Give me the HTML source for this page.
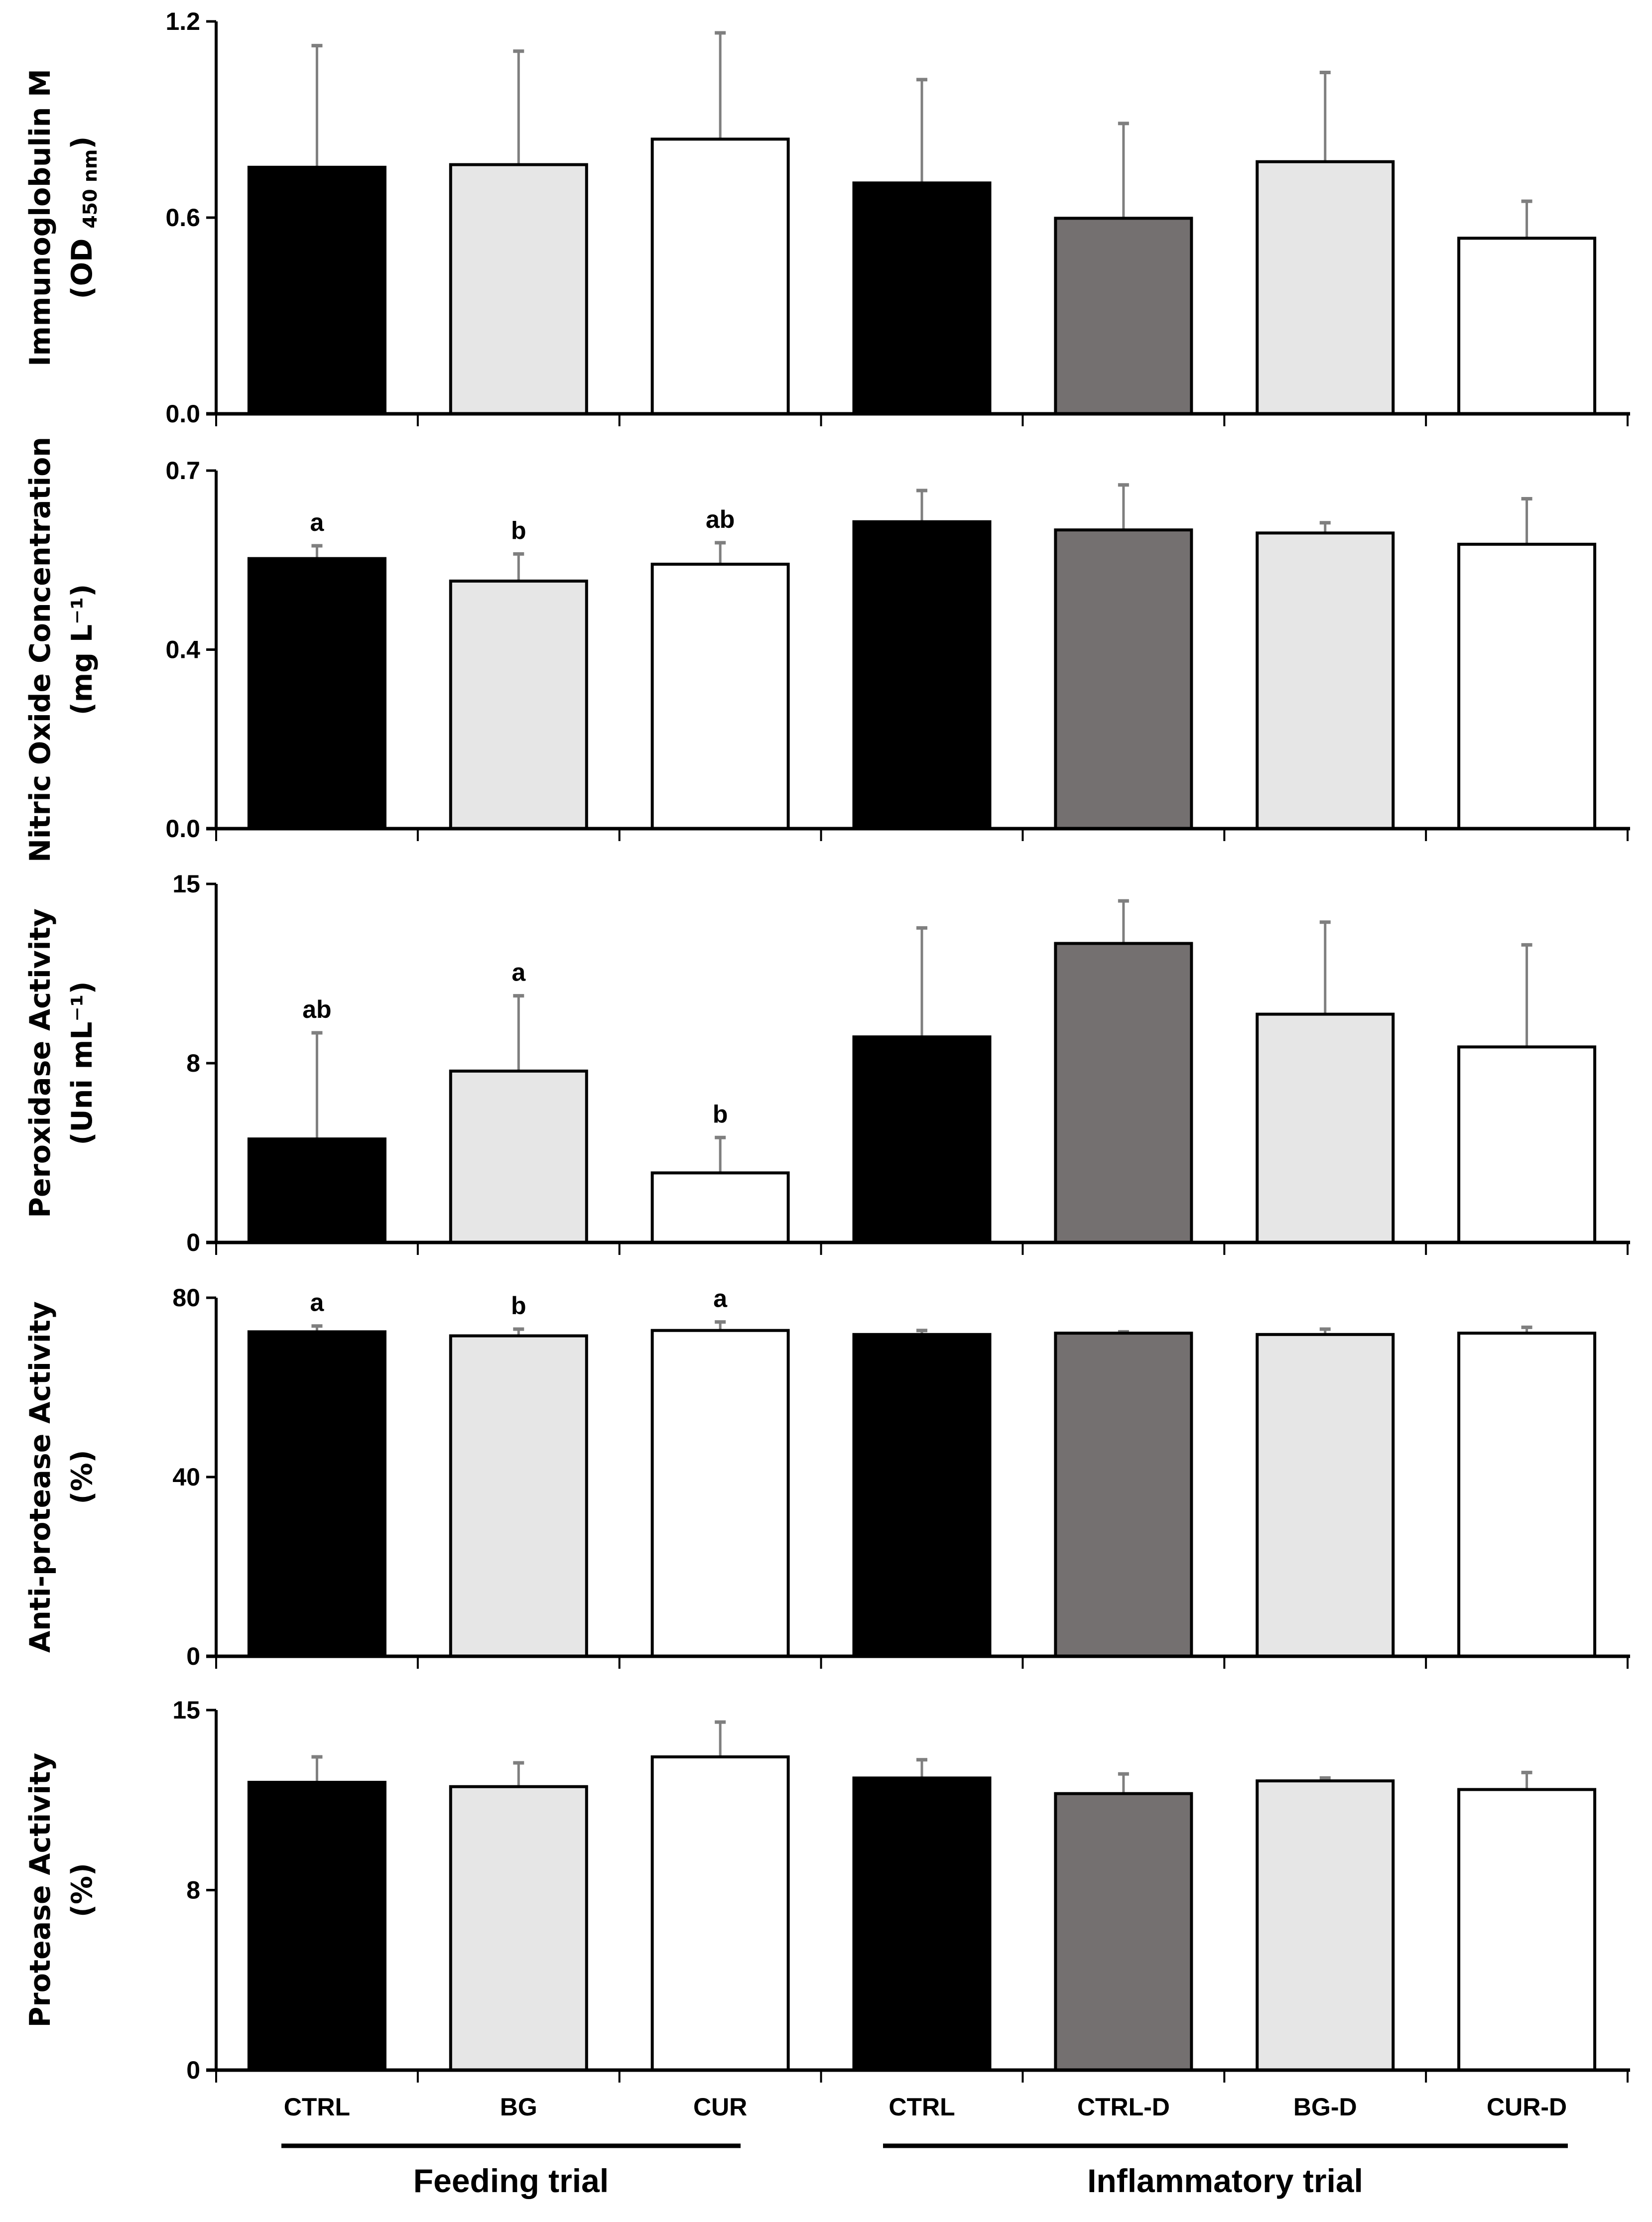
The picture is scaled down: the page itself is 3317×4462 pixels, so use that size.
<!DOCTYPE html>
<html><head><meta charset="utf-8"><style>
html,body{margin:0;padding:0;background:#fff;}
svg{display:block;}
.tick{font-family:"Liberation Sans Narrow","Liberation Sans",sans-serif;font-weight:bold;font-size:50px;}
.ttl{font-family:"DejaVu Sans","Liberation Sans",sans-serif;font-weight:bold;font-size:57px;}
.grp{font-family:"Liberation Sans",sans-serif;font-weight:bold;font-size:66px;}
</style></head><body>
<svg id="chart" width="3317" height="4462" viewBox="0 0 3317 4462" xmlns="http://www.w3.org/2000/svg"></svg>
<script>
const categories = ['CTRL','BG','CUR','CTRL','CTRL-D','BG-D','CUR-D'];
const igmValues = [0.754,0.762,0.840,0.706,0.598,0.771,0.537];
const igmErrTop = [1.126,1.109,1.165,1.022,0.888,1.044,0.650];
const noValues = [0.528,0.484,0.517,0.600,0.584,0.578,0.556];
const noErrTop = [0.553,0.537,0.559,0.661,0.672,0.598,0.645];
const noLetters = ['a','b','ab','','','',''];
const perValues = [4.33,7.17,2.91,8.60,12.51,9.55,8.18];
const perErrTop = [8.77,10.32,4.39,13.16,14.29,13.4,12.45];
const perLetters = ['ab','a','b','','','',''];
const antiValues = [72.4,71.5,72.7,71.8,72.1,71.8,72.1];
const antiErrTop = [73.7,73.0,74.6,72.7,72.4,73.0,73.4];
const antiLetters = ['a','b','a','','','',''];
const protValues = [11.99,11.81,13.05,12.17,11.52,12.05,11.69];
const protErrTop = [13.05,12.8,14.5,12.93,12.34,12.17,12.4];
const igmTicks = [0,0.6,1.2];
const igmTickLabels = ['0.0','0.6','1.2'];
const noTicks = [0,0.35,0.7];
const noTickLabels = ['0.0','0.4','0.7'];
const perTicks = [0,7.5,15];
const perTickLabels = ['0','8','15'];
const antiTicks = [0,40,80];
const antiTickLabels = ['0','40','80'];
const protTicks = [0,7.5,15];
const protTickLabels = ['0','8','15'];

const fills = ['#000','#e6e6e6','#fff','#000','#747070','#e6e6e6','#fff'];
const NS='http://www.w3.org/2000/svg';
const svg=document.getElementById('chart');
function mk(tag,attrs,parent,text){const e=document.createElementNS(NS,tag);for(const k in attrs)e.setAttribute(k,attrs[k]);if(text!==undefined)e.textContent=text;(parent||svg).appendChild(e);return e;}

const X0=434, X1=3268, step=(X1-X0)/categories.length, barW=273;
function xCenter(i){return X0+step*(i+0.5);}

const panels=[
 {name:'igm',top:43,base:831,max:1.2,vals:igmValues,err:igmErrTop,letters:null,ticks:igmTicks,labels:igmTickLabels,t1:'Immunoglobulin  M',t2:''},
 {name:'nitric-oxide',top:945,base:1664,max:0.7,vals:noValues,err:noErrTop,letters:noLetters,ticks:noTicks,labels:noTickLabels,t1:'Nitric Oxide Concentration',t2:'(mg L⁻¹)'},
 {name:'peroxidase',top:1775,base:2495,max:15,vals:perValues,err:perErrTop,letters:perLetters,ticks:perTicks,labels:perTickLabels,t1:'Peroxidase Activity',t2:'(Uni mL⁻¹)'},
 {name:'anti-protease',top:2606,base:3326,max:80,vals:antiValues,err:antiErrTop,letters:antiLetters,ticks:antiTicks,labels:antiTickLabels,t1:'Anti-protease Activity',t2:'(%)'},
 {name:'protease',top:3434,base:4157,max:15,vals:protValues,err:protErrTop,letters:null,ticks:protTicks,labels:protTickLabels,t1:'Protease Activity',t2:'(%)'}
];

panels.forEach(p=>{
  const g=mk('g',{});
  
  
  const y=v=>p.base-(v/p.max)*(p.base-p.top);
  p.vals.forEach((v,i)=>{
    const cx=xCenter(i);
    const et=mk('line',{x1:cx,x2:cx,y1:y(v),y2:y(p.err[i]),stroke:'#7f7f7f','stroke-width':5},g);
    
    
    mk('line',{x1:cx-11,x2:cx+11,y1:y(p.err[i]),y2:y(p.err[i]),stroke:'#7f7f7f','stroke-width':7},g);
    const r=mk('rect',{x:cx-barW/2,y:y(v),width:barW,height:p.base-y(v),fill:fills[i],stroke:'#000','stroke-width':6},g);
    
    
    if(p.letters&&p.letters[i]){
      const t=mk('text',{x:cx,y:y(p.err[i])-30,'text-anchor':'middle',class:'tick'},g,p.letters[i]);
      
      
    }
  });
  const ya=mk('line',{x1:X0,x2:X0,y1:p.top,y2:p.base+3,stroke:'#000','stroke-width':6},g);
  
  
  const xa=mk('line',{x1:X0-20,x2:X1+5,y1:p.base,y2:p.base,stroke:'#000','stroke-width':7},g);
  
  
  for(let i=0;i<=categories.length;i++){
    const x=X0+step*i;
    mk('line',{x1:x,x2:x,y1:p.base,y2:p.base+25,stroke:'#000','stroke-width':4},g);
  }
  p.ticks.forEach((tv,k)=>{
    mk('line',{x1:X0-20,x2:X0,y1:y(tv),y2:y(tv),stroke:'#000','stroke-width':5},g);
    const t=mk('text',{x:X0-32,y:y(tv)+17,'text-anchor':'end',class:'tick'},g,p.labels[k]);
    
    
  });
  const cy=(p.top+p.base)/2;
  const tt=mk('text',{transform:`translate(100,${cy}) rotate(-90)`,'text-anchor':'middle',class:'ttl'},g);
  
  
  mk('tspan',{x:0,y:0},tt,p.t1);
  if(p.name==='igm'){
    mk('tspan',{x:0,y:84},tt,'(OD ');
    mk('tspan',{style:'font-size:38px',dy:10},tt,'450 nm');
    mk('tspan',{dy:-10},tt,')');
  } else {
    mk('tspan',{x:0,y:84},tt,p.t2);
  }
});

categories.forEach((c,i)=>{
  const t=mk('text',{x:xCenter(i),y:4248,'text-anchor':'middle',class:'tick'},svg,c);
  
  
});
const l1=mk('line',{x1:565,x2:1487,y1:4309,y2:4309,stroke:'#000','stroke-width':9});


const l2=mk('line',{x1:1773,x2:3148,y1:4309,y2:4309,stroke:'#000','stroke-width':9});


const g1=mk('text',{x:1026,y:4402,'text-anchor':'middle',class:'grp'},svg,'Feeding trial');


const g2=mk('text',{x:2460,y:4402,'text-anchor':'middle',class:'grp'},svg,'Inflammatory trial');


</script>
</body></html>
